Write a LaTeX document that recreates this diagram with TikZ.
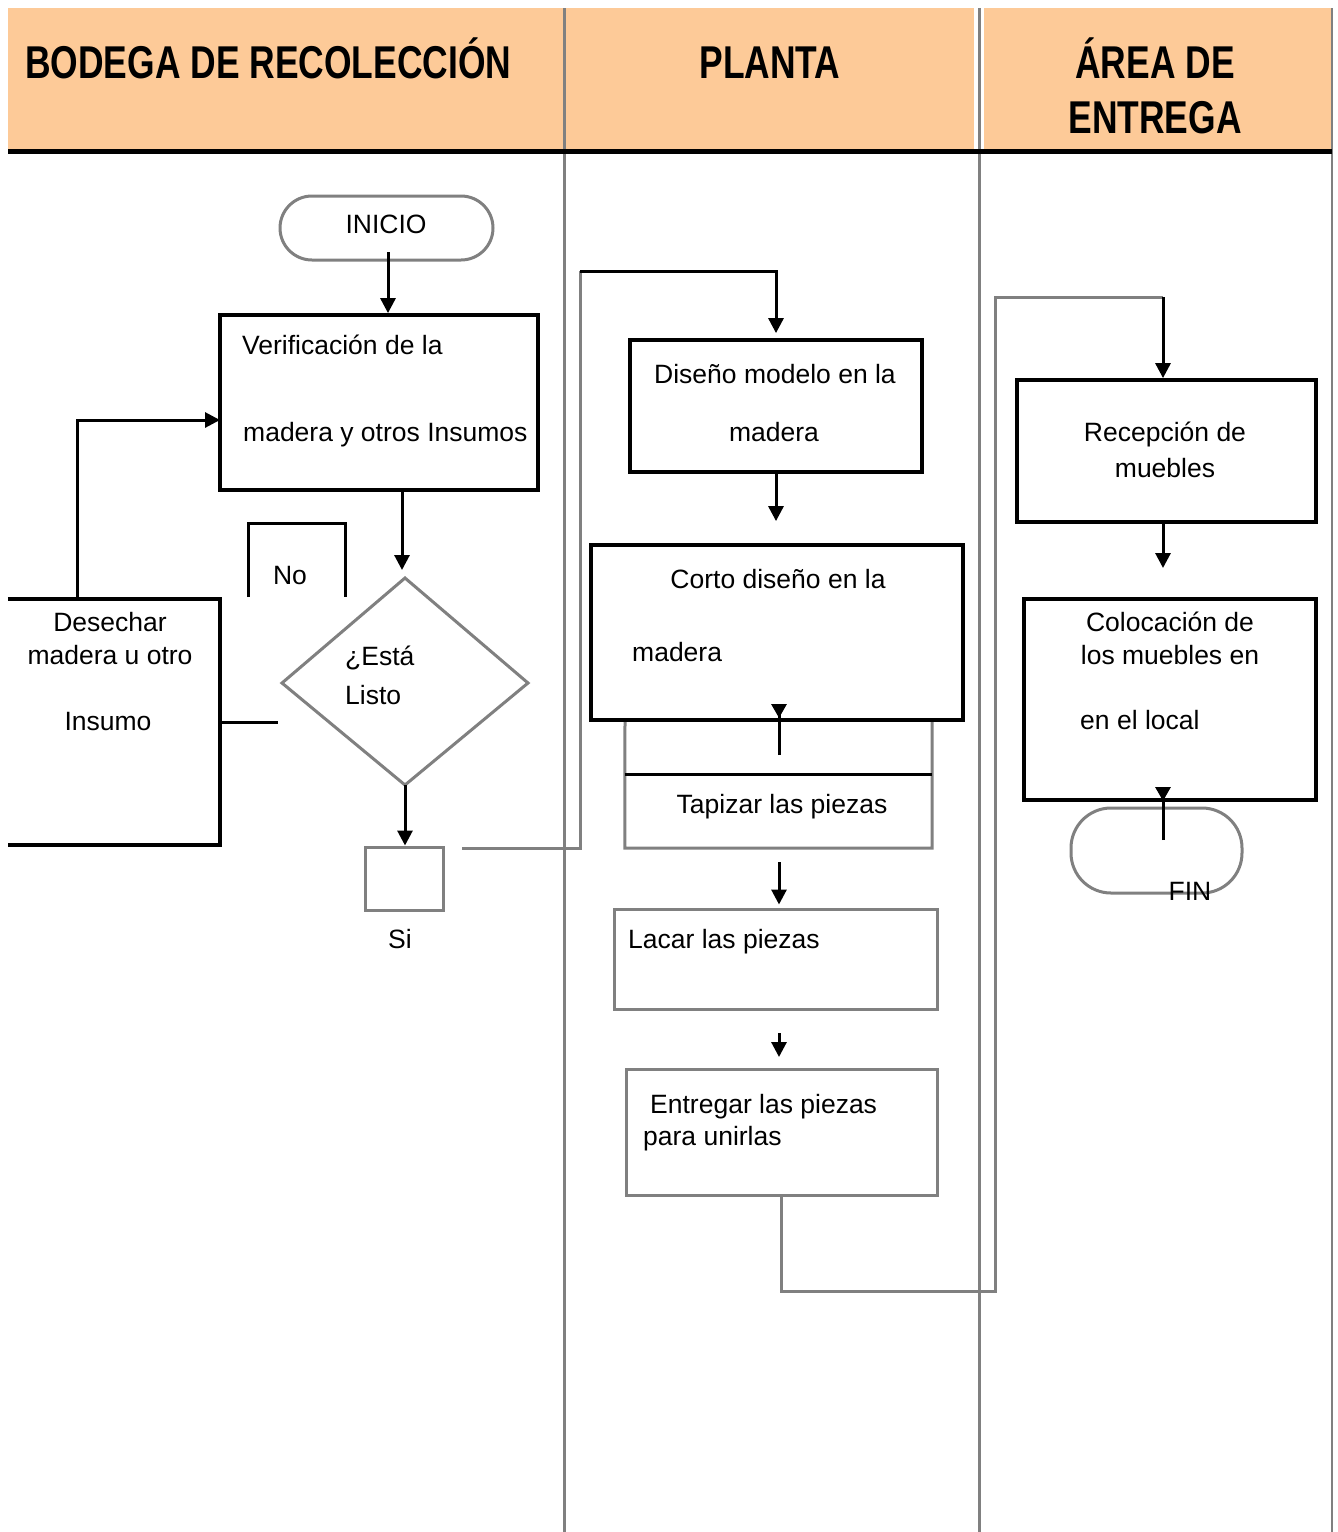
\documentclass[tikz,border=0pt]{standalone}
\usepackage{fontspec}
\setmainfont{Liberation Sans}
\usetikzlibrary{arrows.meta,calc}
\definecolor{hdr}{HTML}{FDCA98}
\definecolor{lgray}{HTML}{808080}
\begin{document}
\begin{tikzpicture}[x=1pt,y=-1pt,
  blk/.style={draw=black,line width=3.8pt},
  gry/.style={draw=lgray,line width=3pt},
  arr/.style={draw=black,line width=3pt,-{Triangle[width=15pt,length=15pt]}},
  arrrev/.style={draw=black,line width=3pt,-{Triangle[reversed,width=15pt,length=14pt]}},
  boxk/.style={blk,rectangle,inner sep=0pt},
  boxg/.style={gry,rectangle,inner sep=0pt},
  boxn/.style={rectangle,inner sep=0pt},
  txt/.style={font=\fontsize{26.5}{30}\selectfont,inner sep=0pt,anchor=base},
  txtl/.style={txt,anchor=base west},
  hd/.style={font=\fontsize{46}{50}\selectfont\bfseries,inner sep=0pt,anchor=base},
]
\useasboundingbox (0,0) rectangle (1338,1532);
\fill[white] (0,0) rectangle (1338,1532);
% header
\fill[hdr] (8,8) rectangle (1332,150);
\fill[white] (974,8) rectangle (984,150);
\draw[lgray,line width=3pt] (564,8) -- (564,1532);
\draw[lgray,line width=3pt] (979,8) -- (979,1532);
\draw[lgray,line width=2.5pt] (1332,8) -- (1332,1532);
\draw[black,line width=5pt] (8,151) -- (1332,151);
\node[hd,anchor=base west] (h1) at (25,78) {\scalebox{0.77}[1]{BODEGA DE RECOLECCIÓN}};
\node[hd] (h2) at (770,78) {\scalebox{0.77}[1]{PLANTA}};
\node[hd] (h3) at (1155,78) {\scalebox{0.77}[1]{ÁREA DE}};
\node[hd] (h4) at (1155,133) {\scalebox{0.77}[1]{ENTREGA}};

% boxes
\node[gry,rectangle,rounded corners=32pt,minimum width=213pt,minimum height=64pt] (inicio) at (386.5,228) {};
\node[boxk,minimum width=318pt,minimum height=175pt] (verif) at (379,402.5) {};
\node[boxg,minimum width=78pt,minimum height=63pt] (sibox) at (404,878.5) {};
\node[boxn,minimum width=212pt,minimum height=246pt] (desechar) at (114,722) {};
\draw[blk] (desechar.north west) -- (desechar.north east) -- (desechar.south east) -- (desechar.south west);
\node[boxk,minimum width=292pt,minimum height=132pt] (diseno) at (776,406) {};
\node[boxk,minimum width=372pt,minimum height=175pt] (corto) at (777,632.5) {};
\node[boxn,minimum width=307pt,minimum height=73pt] (tapizar) at (778.5,811.5) {};
\draw[gry] (625,722) -- (tapizar.south west) -- (tapizar.south east) -- (932,722);
\draw[black,line width=3pt] (tapizar.north west) -- (tapizar.north east);
\node[boxg,minimum width=323pt,minimum height=100pt] (lacar) at (775.5,959) {};
\node[boxg,minimum width=311pt,minimum height=126pt] (entregar) at (781.5,1132) {};
\node[boxk,minimum width=299pt,minimum height=142pt] (recep) at (1166.5,451) {};
\node[boxk,minimum width=292pt,minimum height=201pt] (coloc) at (1170,699.5) {};
\node[gry,rectangle,rounded corners=40pt,minimum width=171pt,minimum height=85pt] (fin) at (1156.5,850.5) {};

% diamond
\coordinate (dtop) at (405,578);
\coordinate (dleft) at (282,683);
\coordinate (dright) at (528,683);
\coordinate (dbot) at (405,785);
\draw[gry] (dtop) -- (dright) -- (dbot) -- (dleft) -- cycle;

% No bracket
\draw[black,line width=3pt] (248,597) -- (248,523) -- (345,523) -- (345,597);

% texts
\node[txt] (tinicio) at (386,233) {INICIO};
\node[txtl] (tv1) at (242,354) {Verificación de la};
\node[txtl] (tv2) at (243,441) {madera y otros Insumos};
\node[txt] (tno) at (290,584) {No};
\node[txtl] (td1) at (345,665) {¿Está};
\node[txtl] (td2) at (345,704) {Listo};
\node[txt] (tde1) at (110,631) {Desechar};
\node[txt] (tde2) at (110,664) {madera u otro};
\node[txt] (tde3) at (108,730) {Insumo};
\node[txt] (tsi) at (400,948) {Si};
\node[txt] (tdi1) at (775,383) {Diseño modelo en la};
\node[txt] (tdi2) at (774,441) {madera};
\node[txt] (tco1) at (778,588) {Corto diseño en la};
\node[txtl] (tco2) at (632,661) {madera};
\node[txt] (tta) at (782,813) {Tapizar las piezas};
\node[txtl] (tla) at (628,948) {Lacar las piezas};
\node[txtl] (ten1) at (650,1113) {Entregar las piezas};
\node[txtl] (ten2) at (643,1145) {para unirlas};
\node[txt] (tre1) at (1165,441) {Recepción de};
\node[txt] (tre2) at (1165,477) {muebles};
\node[txt] (tcl1) at (1170,631) {Colocación de};
\node[txt] (tcl2) at (1170,664) {los muebles en};
\node[txtl] (tcl3) at (1080,729) {en el local};
\node[txt] (tfin) at (1190,900) {FIN};

% connectors
\coordinate (iout) at (388,252);
\draw[arr] (iout) -- (iout |- verif.north);
\coordinate (vout) at (402,490);
\draw[arr,shorten >=8pt] (vout) -- (vout |- dtop);
\draw[arr] (dbot) -- (dbot |- sibox.north);
\coordinate (vin) at (220,420);
\coordinate (dout) at (77,599);
\draw[arr] (dout) |- (vin);
\draw[black,line width=3pt] (desechar.east) -- ++(58,0);
\coordinate (c0) at (462,848);
\coordinate (c1) at (580,848);
\coordinate (c2) at (580,271);
\draw[gry] (c0) -- (c1) -- (c2);
\draw[arr,shorten >=5pt] (c2) -| (diseno.north);
\draw[arr,shorten >=22pt] (diseno.south) -- (diseno.south |- corto.north);
\coordinate (k1) at (779,755);
\coordinate (k2) at (779,704);
\draw[arrrev] (k1) -- (k2);
\coordinate (ta) at (779,862);
\draw[arr,shorten >=3pt] (ta) -- (ta |- lacar.north);
\coordinate (la) at (779,1033);
\coordinate (lb) at (779,1057);
\draw[arr] (la) -- (lb);
\coordinate (c3) at (995,1291);
\coordinate (c4) at (995,297);
\coordinate (c5) at (1163,297);
\draw[gry] (entregar.south) |- (c3) -- (c4) -- (c5);
\draw[arr] (c5) -- (c5 |- recep.north);
\coordinate (r1) at (1163,522);
\draw[arr] (r1) -- (1163,568);
\coordinate (f1) at (1163,840);
\coordinate (f2) at (1163,787);
\draw[arrrev] (f1) -- (f2);
\end{tikzpicture}
\end{document}
